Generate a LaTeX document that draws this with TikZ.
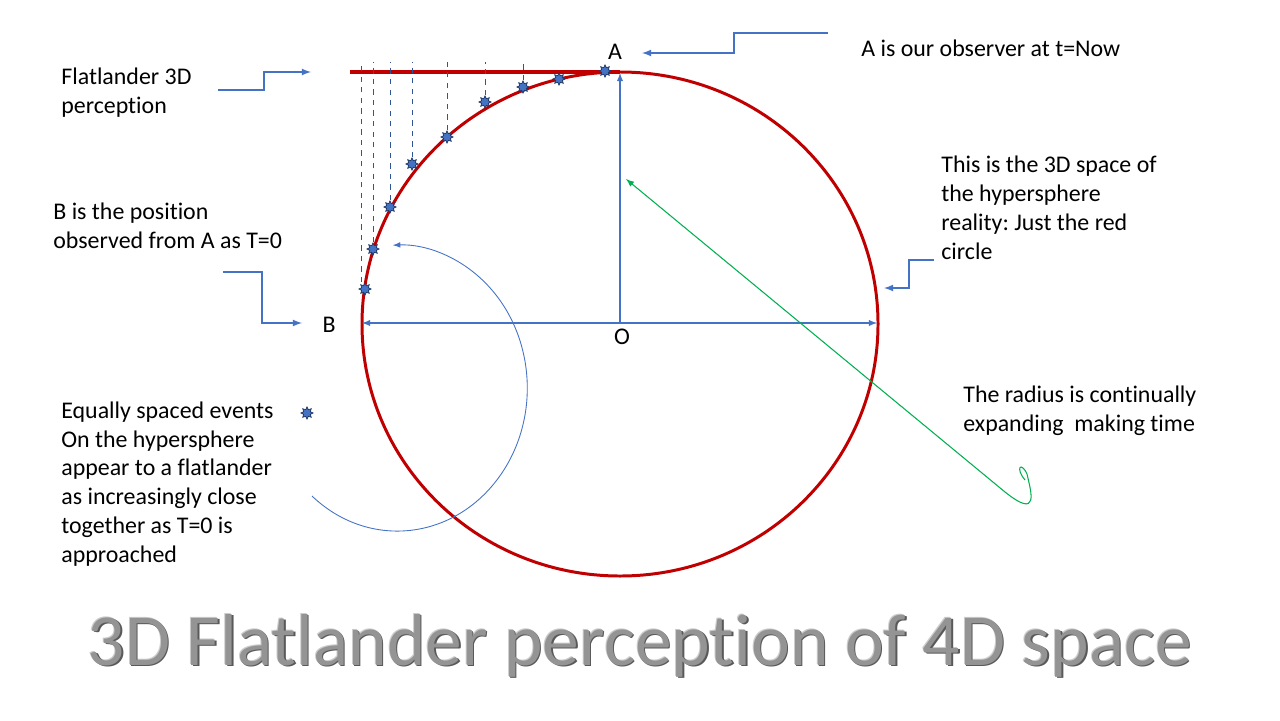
\documentclass[tikz,border=0pt]{standalone}
\usepackage{fontspec}
\setmainfont{Carlito}[Ligatures=NoCommon]
\usepackage{xcolor}
\usepackage{tikz}
\usetikzlibrary{shapes,arrows,positioning,calc}
\definecolor{circred}{HTML}{C00000}
\definecolor{lineblue}{HTML}{4472C4}
\definecolor{dashblue}{HTML}{2F5597}
\definecolor{navy}{HTML}{1F3864}
\definecolor{arrowgreen}{HTML}{00B050}
\frenchspacing

\begin{document}
\begin{tikzpicture}[x=0.02cm, y=-0.02cm,
  note/.style={font=\fontsize{13.6}{16.4}\selectfont, align=left, anchor=west, inner sep=0pt},
  letter/.style={font=\fontsize{13.6}{16}\selectfont, inner sep=0pt},
  event/.style={star, star points=8, star point ratio=1.7, minimum size=0.24cm, inner sep=0pt, fill=lineblue, draw=navy, line width=0.4pt},
  arrow/.style={-latex, lineblue, line width=0.6pt},
  darrow/.style={latex-latex, lineblue, line width=0.6pt},
  steparrow/.style={-latex, lineblue, line width=0.8pt},
  dashline/.style={dashblue, dashed, line width=0.5pt},
  greenarrow/.style={-latex, arrowgreen, line width=0.6pt},
  title/.style={font=\fontsize{41.8}{48}\selectfont, inner sep=0pt, anchor=base}
]
\useasboundingbox (0,0) rectangle (1280,720);

% hypersphere and tangent line
\draw[circred, line width=1.7pt] (620,324) ellipse [x radius=258, y radius=252];
\draw[circred, line width=2pt] (350,72) -- (620,72);

% radii
\coordinate (O) at (620,323);
\coordinate (Atop) at (620,73);
\coordinate (Bpt) at (362,323);
\coordinate (Rpt) at (877,323);
\draw[arrow] (O) -- (Atop);
\draw[darrow] (Bpt) -- (Rpt);

% events on the circle
\coordinate (top) at (0,62);
\node[event] (e0) at (605,71) {};
\node[event] (e1) at (559,79) {};
\node[event] (e2) at (523,87) {};
\node[event] (e3) at (485,102) {};
\node[event] (e4) at (447,137) {};
\node[event] (e5) at (412,164) {};
\node[event] (e6) at (390,207) {};
\node[event] (e7) at (373,249) {};
\node[event] (e8) at (365,289) {};
\draw[dashline] (e2.north) -- (e2 |- top);
\draw[dashline] (e3.north) -- (e3 |- top);
\draw[dashline] (e4.north) -- (e4 |- top);
\draw[dashline] (e5.north) -- (e5 |- top);
\draw[dashline] (e6.north) -- (e6 |- top);
\draw[dashline] (e7.north) -- (e7 |- top);
\draw[dashline] ([xshift=-0.08cm]e8.north) -- ([xshift=-0.08cm]e8 |- top);
\node[event] (key) at (307,413) {};

% labels
\node[letter] (lA) at (615,52) {A};
\node[letter] (lB) at (329,325) {B};
\node[letter] (lO) at (622,337) {O};

\node[note] (flat) at (61,93) {Flatlander 3D\\perception};
\node[note] (bpos) at (53,226) {B is the position\\observed from A as T=0};
\node[note] (aobs) at (861,48) {A is our observer at t=Now};
\node[note] (space) at (941,208) {This is the 3D space of\\the hypersphere\\reality: Just the red\\circle};
\node[note] (radius) at (963,411) {The radius is continually\\expanding~ making time};
\node[note] (events) at (61,484) {Equally spaced events\\On the hypersphere\\appear to a flatlander\\as increasingly close\\together as T=0 is\\approached};

% step arrows
\coordinate (f0) at (218,90);
\coordinate (f1) at (311,72);
\draw[steparrow] (f0) -- (264,90) -- (264,72) -- (f1);
\coordinate (a0) at (828,33);
\coordinate (a1) at (642,53);
\draw[steparrow] (a0) -- (734,33) -- (734,53) -- (a1);
\coordinate (c0) at (934,260);
\coordinate (c1) at (884,288);
\draw[steparrow] (c0) -- (909,260) -- (909,288) -- (c1);
\coordinate (b0) at (223,272);
\coordinate (b1) at (302,323);
\draw[steparrow] (b0) -- (262,272) -- (262,323) -- (b1);

% curved arrows
\coordinate (arcstart) at (312,496);
\draw[arrow, line width=0.5pt] (arcstart) arc[start angle=131, end angle=-92, x radius=130, y radius=143];
\coordinate (gloop) at (1025,480);
\coordinate (gtip) at (626,179);
\draw[greenarrow] (gloop) .. controls (1015,468) and (1021,461) .. (1027,474)
  .. controls (1031,492) and (1040,520) .. (1005,492) -- (gtip);

% title
\node[title, text=black!20] (titlehi) at (639,664) {3D Flatlander perception of 4D space};
\node[title, text=black!65] (titlesh) at (641.5,666.5) {3D Flatlander perception of 4D space};
\node[title, text=black!42] (titletxt) at (640,665) {3D Flatlander perception of 4D space};
\end{tikzpicture}
\end{document}
